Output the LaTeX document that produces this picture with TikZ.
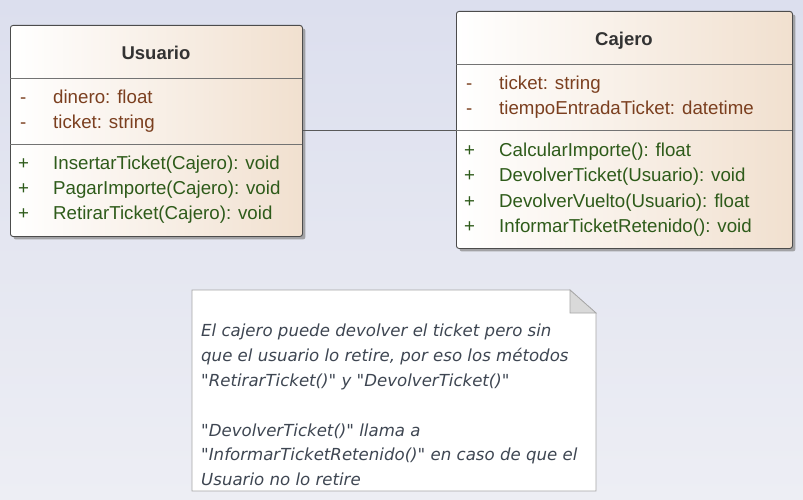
\documentclass[tikz,border=0pt]{standalone}
\usepackage{fontspec}
\setmainfont{Liberation Sans}
\newfontfamily\notefont{DejaVu Sans}
\usetikzlibrary{positioning,shadows}

\definecolor{bgtop}{HTML}{DCDFEE}
\definecolor{bgbottom}{HTML}{EDEEF4}
\definecolor{peach}{HTML}{F1E0CF}
\definecolor{attrcol}{HTML}{7B3F1F}
\definecolor{opcol}{HTML}{2E5B1A}
\definecolor{titlecol}{HTML}{333333}
\definecolor{notetext}{HTML}{3E4652}

\tikzset{
  classbox/.style={draw=black!70, line width=0.9pt, rounded corners=2.5pt,
    left color=white, right color=peach,
    drop shadow={shadow xshift=3pt, shadow yshift=-3pt, fill=black!45, opacity=0.75},
    anchor=north west, inner sep=0pt},
  classname/.style={font=\fontsize{18.5}{22}\selectfont\bfseries, text=titlecol},
  member/.style={font=\fontsize{18.7}{22}\selectfont, anchor=base west, inner sep=0pt},
  attr/.style={member, text=attrcol},
  op/.style={member, text=opcol},
  divider/.style={draw=black!55, line width=0.8pt},
  assoc/.style={draw=black!65, line width=0.8pt},
  notebox/.style={draw=black!35, fill=white, line width=0.7pt},
  notetxt/.style={font=\notefont\itshape\fontsize{16.6}{24.8}\selectfont, text=notetext,
    align=left, anchor=north west, inner sep=0pt}
}

\begin{document}
\begin{tikzpicture}[x=1pt, y=-1pt]
    \shade[top color=bgtop, bottom color=bgbottom] (0,0) rectangle (803,500);
    \useasboundingbox (0,0) rectangle (803,500);

    % Usuario
    \node[classbox, minimum width=292pt, minimum height=211pt] (usuario) at (10,25) {};
    \node[classname] (usuario_name) at (156,53) {Usuario};
    \draw[divider] (10,78) -- (302,78);
    \draw[divider] (10,144) -- (302,144);
    \node[attr] (u_vis1) at (20,104) {-};
    \node[attr] (u_dinero) at (53,104) {dinero: float};
    \node[attr] (u_vis2) at (20,129) {-};
    \node[attr] (u_ticket) at (53,129) {ticket: string};
    \node[op] (u_vis3) at (18,169) {+};
    \node[op] (u_insertar) at (53,169) {InsertarTicket(Cajero): void};
    \node[op] (u_vis4) at (18,194) {+};
    \node[op] (u_pagar) at (53,194) {PagarImporte(Cajero): void};
    \node[op] (u_vis5) at (18,219) {+};
    \node[op] (u_retirar) at (53,219) {RetirarTicket(Cajero): void};

    % Cajero
    \node[classbox, minimum width=336pt, minimum height=237pt] (cajero) at (456,11) {};
    \node[classname] (cajero_name) at (624,41) {Cajero};
    \draw[divider] (456,64) -- (792,64);
    \draw[divider] (456,130) -- (792,130);
    \node[attr] (c_vis1) at (466,90) {-};
    \node[attr] (c_ticket) at (499,90) {ticket: string};
    \node[attr] (c_vis2) at (466,115) {-};
    \node[attr] (c_tiempo) at (499,115) {tiempoEntradaTicket: datetime};
    \node[op] (c_vis3) at (464,157) {+};
    \node[op] (c_calcular) at (499,157) {CalcularImporte(): float};
    \node[op] (c_vis4) at (464,182) {+};
    \node[op] (c_devticket) at (499,182) {DevolverTicket(Usuario): void};
    \node[op] (c_vis5) at (464,207) {+};
    \node[op] (c_devvuelto) at (499,207) {DevolverVuelto(Usuario): float};
    \node[op] (c_vis6) at (464,232) {+};
    \node[op] (c_informar) at (499,232) {InformarTicketRetenido(): void};

    \coordinate (u_end) at (usuario.east |- 0,130);
    \coordinate (c_end) at (cajero.west |- 0,130);
    \path[assoc] (u_end) edge (c_end);

    % nota
    \draw[notebox] (192,290) -- (570,290) -- (596,313) -- (596,491) -- (192,491) -- cycle;
    \draw[notebox, fill=black!15] (570,290) -- (570,313) -- (596,313) -- cycle;
    \node[notetxt] (nota) at (201,324) {El cajero puede devolver el ticket pero sin\\
      que el usuario lo retire, por eso los métodos\\
      "RetirarTicket()" y "DevolverTicket()"\\[24.8pt]
      "DevolverTicket()" llama a\\
      "InformarTicketRetenido()" en caso de que el\\
      Usuario no lo retire};
\end{tikzpicture}
\end{document}
